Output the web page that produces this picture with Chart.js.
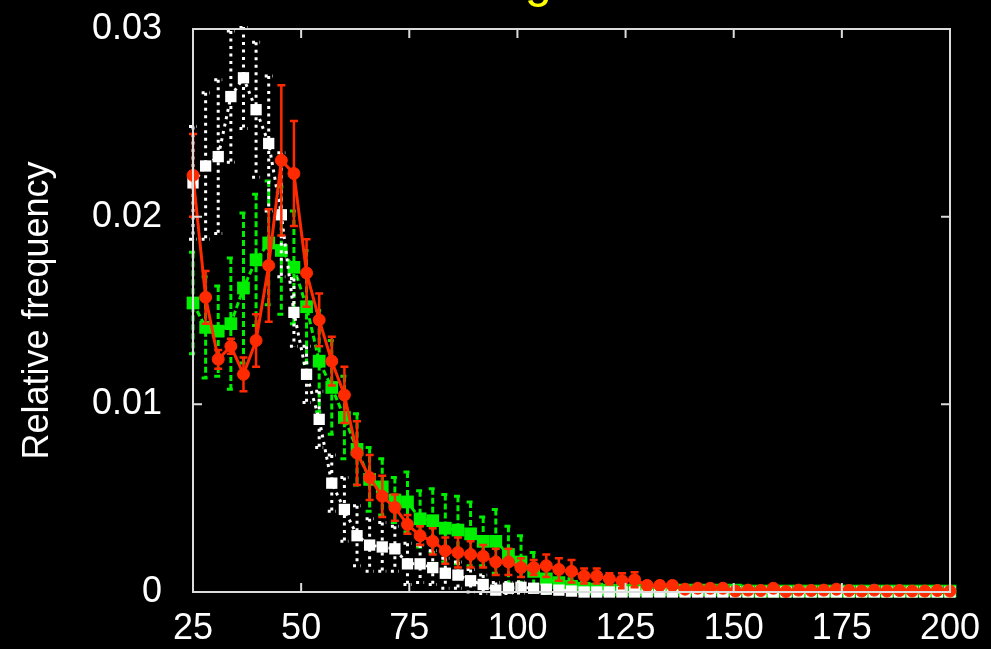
<!DOCTYPE html>
<html>
<head>
<meta charset="utf-8">
<script src="https://cdn.jsdelivr.net/npm/chart.js@4.4.1/dist/chart.umd.min.js"></script>
<style>
  html, body { margin: 0; padding: 0; background: #000; }
  canvas { display: block; }
</style>
</head>
<body>
<canvas id="freqChart" width="991" height="649"></canvas>
<script>
// bin centres
const binX = [25.00, 27.92, 30.83, 33.75, 36.67, 39.58, 42.50, 45.42, 48.33, 51.25,
              54.17, 57.08, 60.00, 62.92, 65.83, 68.75, 71.67, 74.58, 77.50, 80.42,
              83.33, 86.25, 89.17, 92.08, 95.00, 97.92, 100.83, 103.75, 106.67, 109.58,
              112.50, 115.42, 118.33, 121.25, 124.17, 127.08, 130.00, 132.92, 135.83, 138.75,
              141.67, 144.58, 147.50, 150.42, 153.33, 156.25, 159.17, 162.08, 165.00, 167.92,
              170.83, 173.75, 176.67, 179.58, 182.50, 185.42, 188.33, 191.25, 194.17, 197.08,
              200.00];

const redFreq = [0.0222, 0.0157, 0.0124, 0.0131, 0.0116, 0.0134, 0.0174, 0.0230, 0.0223, 0.0170,
                 0.0145, 0.0123, 0.0105, 0.0074, 0.0061, 0.0051, 0.0045, 0.0036, 0.0030, 0.0027,
                 0.0022, 0.0021, 0.0020, 0.0019, 0.0016, 0.0016, 0.0013, 0.0013, 0.0014, 0.0012,
                 0.0011, 0.00085, 0.00085, 0.0007, 0.0006, 0.00065, 0.00035, 0.00035, 0.00035, 0.00015,
                 0.0002, 0.0002, 0.0002, 0.00005, 0.0001, 0.00008, 0.0002, 0.00003, 0.0001, 0.00008,
                 0.0001, 0.00015, 0.00008, 0.00005, 0.0001, 0.00005, 0.00008, 0.00005, 0.00005, 0.00008,
                 0.00005];
const redErr = [0.0022, 0.0014, 0.0005, 0.0004, 0.0009, 0.0014, 0.0030, 0.0040, 0.0028, 0.0018,
                0.0014, 0.0013, 0.0015, 0.0017, 0.0012, 0.0011, 0.0007, 0.0005, 0.0005, 0.0007,
                0.0007, 0.0008, 0.0007, 0.0006, 0.0007, 0.0007, 0.0005, 0.0004, 0.0006, 0.0006,
                0.0006, 0.0004, 0.0004, 0.0003, 0.0004, 0.0004, 0.0002, 0.0002, 0.0002, 0.0001,
                0.0001, 0.0001, 0.0001, 0.00005, 0.00005, 0.00005, 0.0001, 0.00005, 0.00005, 0.00005,
                0.00005, 0.00005, 0.00005, 0.00005, 0.00005, 0.00005, 0.00005, 0.00005, 0.00005, 0.00005,
                0.00005];

const greenFreq = [0.0154, 0.0141, 0.0139, 0.0143, 0.0162, 0.0177, 0.0186, 0.0182, 0.0173, 0.0152,
                   0.0123, 0.0109, 0.0093, 0.0076, 0.0060, 0.0056, 0.0049, 0.0048, 0.0039, 0.0038,
                   0.0034, 0.0033, 0.0031, 0.0027, 0.0027, 0.0020, 0.0016, 0.0011, 0.0007, 0.0005,
                   0.0003, 0.0002, 0.00015, 0.0001, 0.0001, 0.0001, 0.0001, 0.0001, 0.0001, 0.0001,
                   0.0001, 0.0001, 0.0001, 0.0001, 0.00005, 0.00005, 0.00005, 0.00005, 0.00005, 0.00005,
                   0.00005, 0.00005, 0.00005, 0.00005, 0.00005, 0.00005, 0.00005, 0.00005, 0.00005, 0.00005,
                   0.00005];
const greenErr = [0.0027, 0.0027, 0.0024, 0.0035, 0.0040, 0.0035, 0.0033, 0.0034, 0.0030, 0.0030,
                  0.0027, 0.0025, 0.0022, 0.0019, 0.0017, 0.0015, 0.0012, 0.0016, 0.0015, 0.0017,
                  0.0018, 0.0018, 0.0017, 0.0013, 0.0017, 0.0015, 0.0014, 0.0010, 0.0008, 0.0006,
                  0.0004, 0.0003, 0.0002, 0.0001, 0.0001, 0.0001, 0.0001, 0.0001, 0.0001, 0.0001,
                  0.0001, 0.0001, 0.0001, 0.0001, 0.0001, 0.0001, 0.0001, 0.0001, 0.0001, 0.0001,
                  0.0001, 0.0001, 0.0001, 0.0001, 0.0001, 0.0001, 0.0001, 0.0001, 0.0001, 0.0001,
                  0.0001];

const whiteFreq = [0.0218, 0.0227, 0.0232, 0.0264, 0.0274, 0.0257, 0.0239, 0.0201, 0.0149, 0.0116,
                   0.0092, 0.0058, 0.0044, 0.0030, 0.0025, 0.0024, 0.0023, 0.0015, 0.0015, 0.0013,
                   0.0010, 0.0009, 0.0006, 0.0004, 0.0001, 0.0002, 0.00025, 0.0002, 0.00015, 0.0001,
                   0.00005, 0, 0, 0, 0, 0, 0, 0, 0, 0,
                   0, 0, 0, 0, 0, 0, 0, 0, 0, 0,
                   0, 0, 0, 0, 0, 0, 0, 0, 0, 0,
                   0];
const whiteErr = [0.0030, 0.0039, 0.0041, 0.0035, 0.0027, 0.0036, 0.0036, 0.0033, 0.0018, 0.0015,
                  0.0015, 0.0015, 0.0017, 0.0016, 0.0014, 0.0013, 0.0012, 0.0011, 0.0010, 0.0009,
                  0.0008, 0.0007, 0.0006, 0.0005, 0.0004, 0.0003, 0.0003, 0.0002, 0.0002, 0.0001,
                  0.0001, 0, 0, 0, 0, 0, 0, 0, 0, 0,
                  0, 0, 0, 0, 0, 0, 0, 0, 0, 0,
                  0, 0, 0, 0, 0, 0, 0, 0, 0, 0,
                  0];

const yTicks = [0, 0.01, 0.02, 0.03];

function points(values) {
    return binX.map((x, i) => ({ x: x, y: values[i] }));
}

// vertical error bars with caps, drawn just below each dataset's own line and markers
const errorBars = {
    id: 'errorBars',
    beforeDatasetDraw(chart, args) {
        const ds = chart.data.datasets[args.index];
        if (!ds.errors) return;
        const ctx = chart.ctx;
        const yScale = chart.scales.y;
        const area = chart.chartArea;
        ctx.save();
        ctx.beginPath();
        ctx.rect(area.left - 15, area.top - 3, area.right - area.left + 30, area.bottom - area.top + 6);
        ctx.clip();
        ctx.strokeStyle = ds.borderColor;
        ctx.lineWidth = ds.errorWidth;
        ctx.setLineDash(ds.borderDash || []);
        args.meta.data.forEach((pt, i) => {
            const e = ds.errors[i];
            if (!e) return;
            const v = ds.data[i].y;
            const top = yScale.getPixelForValue(v + e);
            const bot = yScale.getPixelForValue(v - e);
            ctx.beginPath();
            ctx.moveTo(pt.x, top);
            ctx.lineTo(pt.x, bot);
            ctx.moveTo(pt.x - 4, top);
            ctx.lineTo(pt.x + 4, top);
            ctx.moveTo(pt.x - 4, bot);
            ctx.lineTo(pt.x + 4, bot);
            ctx.stroke();
        });
        ctx.restore();
    }
};

// gnuplot style frame with inward ticks on all four sides, plus the title
const frame = {
    id: 'frame',
    afterDatasetsDraw(chart) {
        const ctx = chart.ctx;
        const a = chart.chartArea;
        const xs = chart.scales.x, ys = chart.scales.y;
        ctx.save();
        ctx.strokeStyle = '#dcdcdc';
        ctx.lineWidth = 2;
        ctx.strokeRect(a.left, a.top, a.right - a.left, a.bottom - a.top);
        ctx.beginPath();
        xs.ticks.forEach(t => {
            const px = xs.getPixelForValue(t.value);
            ctx.moveTo(px, a.bottom); ctx.lineTo(px, a.bottom - 9);
            ctx.moveTo(px, a.top); ctx.lineTo(px, a.top + 9);
        });
        ys.ticks.forEach(t => {
            const py = ys.getPixelForValue(t.value);
            ctx.moveTo(a.left, py); ctx.lineTo(a.left + 9, py);
            ctx.moveTo(a.right, py); ctx.lineTo(a.right - 9, py);
        });
        ctx.stroke();
        ctx.restore();
    },
    afterDraw(chart) {
        const ctx = chart.ctx;
        ctx.save();
        ctx.fillStyle = '#ffff00';
        ctx.font = '48px "Liberation Sans", Arial, sans-serif';
        ctx.textBaseline = 'alphabetic';
        ctx.textAlign = 'left';
        ctx.fillText('Length', 445, -3);
        ctx.restore();
    }
};

const tickFont = { family: '"Liberation Sans", Arial, sans-serif', size: 36 };

new Chart(document.getElementById('freqChart'), {
    type: 'line',
    data: {
        datasets: [
            {
                data: points(redFreq),
                errors: redErr,
                errorWidth: 2.5,
                borderColor: '#ff2a00',
                backgroundColor: '#ff2a00',
                borderWidth: 3,
                pointStyle: 'circle',
                pointRadius: 6,
                pointBorderWidth: 1,
                pointBackgroundColor: '#ff2a00',
                pointBorderColor: '#ff2a00',
                clip: 12
            },
            {
                data: points(whiteFreq),
                errors: whiteErr,
                errorWidth: 3,
                borderColor: '#ffffff',
                backgroundColor: '#ffffff',
                borderWidth: 3,
                borderDash: [3, 4.5],
                pointStyle: 'rect',
                pointRadius: 8,
                pointBorderWidth: 0,
                pointBackgroundColor: '#ffffff',
                clip: 12
            },
            {
                data: points(greenFreq),
                errors: greenErr,
                errorWidth: 3,
                borderColor: '#00ee00',
                backgroundColor: '#00ee00',
                borderWidth: 3,
                borderDash: [6, 3],
                pointStyle: 'rect',
                pointRadius: 9,
                pointBorderWidth: 0,
                pointBackgroundColor: '#00ee00',
                clip: 12
            }
        ]
    },
    options: {
        responsive: false,
        animation: false,
        devicePixelRatio: 1,
        layout: { padding: { top: 29, right: 41, left: 0, bottom: 0 } },
        plugins: {
            legend: { display: false },
            tooltip: { enabled: false }
        },
        elements: { line: { tension: 0, fill: false } },
        scales: {
            x: {
                type: 'linear',
                min: 25,
                max: 200,
                grid: { display: false },
                border: { display: false },
                ticks: { stepSize: 25, color: '#ffffff', font: tickFont, padding: 7, maxRotation: 0 },
                afterFit: s => { s.height = 57; s.paddingLeft = 0; s.paddingRight = 0; }
            },
            y: {
                min: 0,
                max: 0.03,
                grid: { display: false },
                border: { display: false },
                afterBuildTicks: s => { s.ticks = yTicks.map(v => ({ value: v })); },
                ticks: {
                    color: '#ffffff',
                    font: tickFont,
                    padding: 23,
                    callback: v => v === 0 ? '0' : v.toFixed(2)
                },
                title: {
                    display: true,
                    text: 'Relative frequency',
                    color: '#ffffff',
                    font: tickFont,
                    padding: { top: 16, bottom: 0 }
                },
                afterFit: s => { s.width = 193; s.paddingTop = 0; s.paddingBottom = 0; }
            }
        }
    },
    plugins: [errorBars, frame]
});
</script>
</body>
</html>
